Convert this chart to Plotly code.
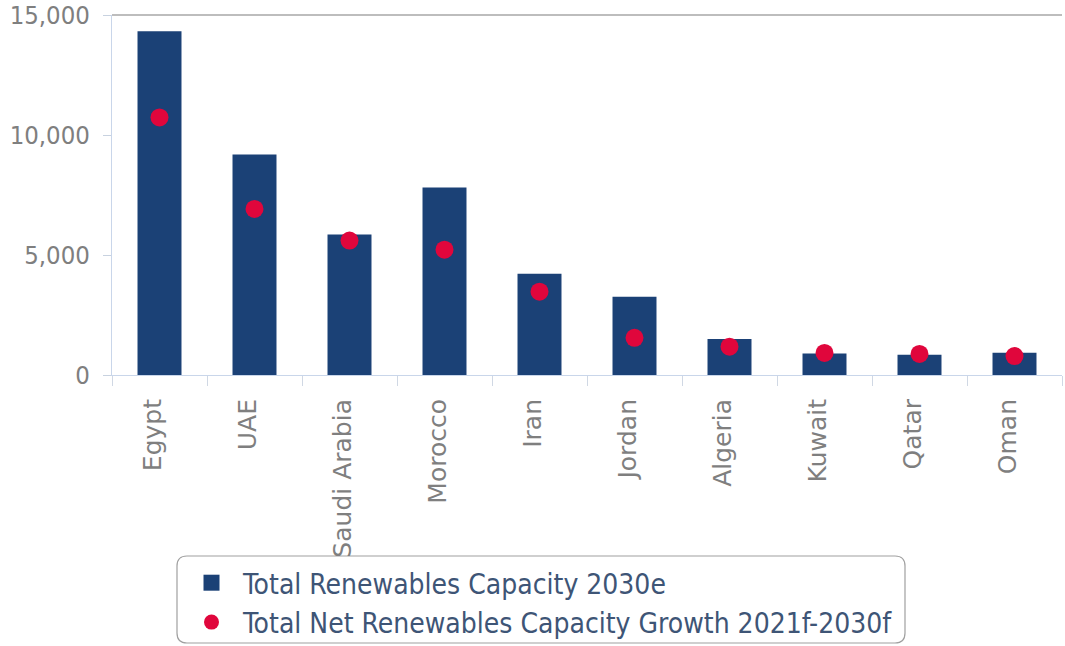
import plotly.graph_objects as go

# Renewables capacity outlook, MENA markets (MW)
countries = ["Egypt", "UAE", "Saudi Arabia", "Morocco", "Iran",
             "Jordan", "Algeria", "Kuwait", "Qatar", "Oman"]
capacity_2030 = [14320, 9190, 5850, 7810, 4220, 3260, 1500, 900, 840, 930]
growth_2021_2030 = [10730, 6920, 5600, 5220, 3470, 1550, 1180, 920, 880, 790]

y_ticks = [0, 5000, 10000, 15000]
y_tick_labels = ["0", "5,000", "10,000", "15,000"]

NAVY = "#1b4176"
RED = "#e0063c"
TICK_GREY = "#7f7f7f"
AXIS_BLUE = "#c9d6ea"

W, H = 1065, 646
L, R, T, B = 112, 3, 15, 271
PW, PH = W - L - R, H - T - B


def px_x(px):
    return (px - L) / PW


def px_y(py):
    return (H - B - py) / PH


def rounded_rect(x0, y0, x1, y1, r):
    # path in paper coordinates from pixel corners
    X = px_x
    Y = px_y
    return (
        f"M {X(x0 + r)} {Y(y0)} L {X(x1 - r)} {Y(y0)} "
        f"Q {X(x1)} {Y(y0)} {X(x1)} {Y(y0 + r)} "
        f"L {X(x1)} {Y(y1 - r)} Q {X(x1)} {Y(y1)} {X(x1 - r)} {Y(y1)} "
        f"L {X(x0 + r)} {Y(y1)} Q {X(x0)} {Y(y1)} {X(x0)} {Y(y1 - r)} "
        f"L {X(x0)} {Y(y0 + r)} Q {X(x0)} {Y(y0)} {X(x0 + r)} {Y(y0)} Z"
    )


fig = go.Figure()

fig.add_trace(go.Bar(
    x=countries, y=capacity_2030,
    marker=dict(color=NAVY, line=dict(width=0)),
    name="Total Renewables Capacity 2030e",
    showlegend=False,
))
fig.add_trace(go.Scatter(
    x=countries, y=growth_2021_2030, mode="markers",
    marker=dict(color=RED, size=18),
    name="Total Net Renewables Capacity Growth 2021f-2030f",
    showlegend=False,
))

# legend entries
fig.add_trace(go.Scatter(
    x=[None], y=[None], mode="markers",
    marker=dict(color=NAVY, size=16, symbol="square"),
    name="Total Renewables Capacity 2030e",
))
fig.add_trace(go.Scatter(
    x=[None], y=[None], mode="markers",
    marker=dict(color=RED, size=15, symbol="circle"),
    name="Total Net Renewables Capacity Growth 2021f-2030f",
))

fig.update_layout(
    width=W, height=H,
    margin=dict(l=L, r=R, t=T, b=B, pad=0, autoexpand=False),
    paper_bgcolor="white", plot_bgcolor="white",
    bargap=0.537,
    showlegend=True,
    legend=dict(
        x=px_x(180), y=px_y(558), xanchor="left", yanchor="top",
        bgcolor="rgba(0,0,0,0)", borderwidth=0,
        font=dict(family="DejaVu Sans Condensed", size=28, color="#3e5576"),
        itemsizing="trace", itemwidth=53, tracegroupgap=0,
    ),
    shapes=[
        dict(type="line", xref="paper", yref="paper", x0=0, x1=1, y0=1, y1=1,
             line=dict(color="#bdbdbd", width=2)),
        dict(type="path", xref="paper", yref="paper",
             path=rounded_rect(177, 556, 905, 643, 10),
             line=dict(color="#a0a0a0", width=1.2), fillcolor="rgba(0,0,0,0)",
             layer="below"),
    ],
)

fig.update_xaxes(
    type="category", range=[-0.5, 9.5], automargin=False,
    showline=True, linecolor=AXIS_BLUE, linewidth=1,
    showgrid=False, zeroline=False,
    ticks="outside", tickson="boundaries", ticklen=10, tickcolor="#d0d8e4",
    tickangle=-90,
    tickfont=dict(family="DejaVu Sans", size=25, color=TICK_GREY),
    ticklabelstandoff=13, ticklabelshift=-7,
)
fig.update_yaxes(
    range=[0, 15000], tickvals=y_ticks, ticktext=y_tick_labels,
    automargin=False, ticklabeloverflow="allow",
    showline=True, linecolor=AXIS_BLUE, linewidth=1,
    showgrid=False, zeroline=False,
    ticks="outside", ticklen=8, tickcolor="#c8d2e0",
    tickfont=dict(family="DejaVu Sans Condensed", size=25.5, color=TICK_GREY),
    ticklabelstandoff=8,
)

fig.write_html("out.html")
